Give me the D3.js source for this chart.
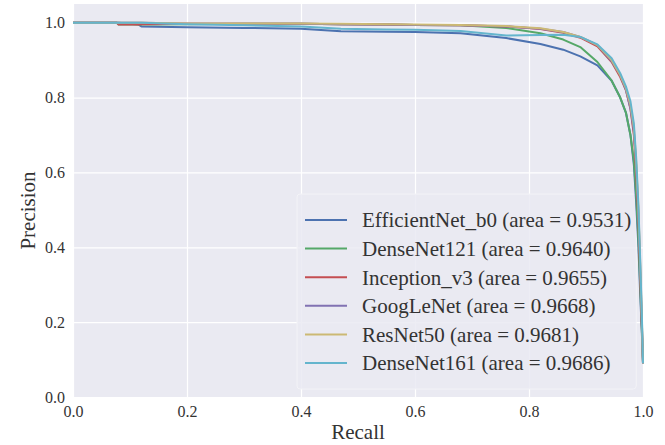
<!DOCTYPE html>
<html>
<head>
<meta charset="utf-8">
<script src="https://cdn.jsdelivr.net/npm/d3@7"></script>
<style>
  body { margin: 0; background: #fff; }
  svg { display: block; }
  .tick text { font-family: "Liberation Serif", "Times New Roman", serif; font-size: 16px; fill: #333; }
  .axis-title { font-family: "Liberation Serif", "Times New Roman", serif; font-size: 21px; fill: #333; }
  .legend-text { font-family: "Liberation Serif", "Times New Roman", serif; font-size: 21px; fill: #333; }
</style>
</head>
<body>
<div id="chart"></div>
<script>
'use strict';

// model names + average precision shown in the legend
var models = ['EfficientNet_b0', 'DenseNet121', 'Inception_v3', 'GoogLeNet', 'ResNet50', 'DenseNet161'];
var areas = ['0.9531', '0.9640', '0.9655', '0.9668', '0.9681', '0.9686'];
var colors = ['#4C72B0', '#55A868', '#C44E52', '#8172B2', '#CCB974', '#64B5CD'];

// shared recall grid
var recall = [0, 0.077, 0.08, 0.115, 0.12, 0.2, 0.3, 0.4, 0.47, 0.55, 0.6, 0.68, 0.76, 0.82, 0.86,
              0.89, 0.92, 0.945, 0.96, 0.97, 0.978, 0.984, 0.988, 0.992, 0.995, 0.998, 1.0];

// precision for each model at the recall points above
var precEfficientNet = [1, 1, 1, 0.995, 0.99, 0.988, 0.986, 0.984, 0.977, 0.976, 0.975, 0.972, 0.959, 0.943, 0.928,
                        0.910, 0.886, 0.845, 0.80, 0.76, 0.70, 0.62, 0.52, 0.40, 0.28, 0.17, 0.09];
var precDenseNet121 = [1, 1, 0.995, 0.995, 0.995, 0.996, 0.997, 0.997, 0.996, 0.995, 0.994, 0.993, 0.986, 0.972, 0.955,
                       0.935, 0.895, 0.845, 0.80, 0.76, 0.70, 0.63, 0.54, 0.42, 0.30, 0.18, 0.09];
var precInception = [1, 1, 0.995, 0.995, 0.996, 0.997, 0.997, 0.997, 0.996, 0.995, 0.994, 0.993, 0.99, 0.983, 0.973,
                     0.96, 0.937, 0.895, 0.855, 0.82, 0.77, 0.70, 0.60, 0.47, 0.33, 0.19, 0.09];
var precGoogLeNet = [1, 1, 1, 1, 1, 0.998, 0.997, 0.997, 0.996, 0.995, 0.994, 0.993, 0.99, 0.984, 0.975,
                     0.962, 0.940, 0.897, 0.86, 0.82, 0.77, 0.71, 0.62, 0.49, 0.35, 0.20, 0.09];
var precResNet50 = [1, 1, 1, 1, 1, 0.998, 0.998, 0.998, 0.997, 0.996, 0.995, 0.994, 0.991, 0.985, 0.975,
                    0.962, 0.94, 0.90, 0.86, 0.825, 0.78, 0.72, 0.63, 0.50, 0.36, 0.21, 0.09];
var precDenseNet161 = [1, 1, 1, 1, 1, 0.996, 0.993, 0.99, 0.984, 0.982, 0.981, 0.978, 0.966, 0.967, 0.968,
                       0.962, 0.942, 0.905, 0.865, 0.83, 0.79, 0.73, 0.64, 0.51, 0.37, 0.22, 0.09];

var precisions = [precEfficientNet, precDenseNet121, precInception, precGoogLeNet, precResNet50, precDenseNet161];

var xTicks = [0, 0.2, 0.4, 0.6, 0.8, 1.0];
var yTicks = [0, 0.2, 0.4, 0.6, 0.8, 1.0];

var svgWidth = 665;
var svgHeight = 445;
var margins = { top: 4, left: 73, bottom: 48, right: 22 };
var width = svgWidth - margins.left - margins.right;
var height = svgHeight - margins.top - margins.bottom;

var svg = d3.select('#chart')
    .append('svg')
    .attr('width', svgWidth)
    .attr('height', svgHeight);

var g = svg.append('g')
    .attr('transform', 'translate(' + margins.left + ',' + margins.top + ')');

var x = d3.scaleLinear().domain([0, 1]).range([0, width]);
var y = d3.scaleLinear().domain([0, 1.05]).range([height, 0]);

// seaborn darkgrid background
g.append('rect')
    .attr('width', width)
    .attr('height', height)
    .attr('fill', '#EAEAF2');

// grid lines
g.append('g')
    .attr('transform', 'translate(0,' + height + ')')
    .call(d3.axisBottom(x).tickValues(xTicks).tickSize(-height).tickFormat(''))
    .call(function (s) {
      s.select('.domain').remove();
      s.selectAll('line').attr('stroke', '#fff').attr('stroke-width', 1.2);
    });

g.append('g')
    .call(d3.axisLeft(y).tickValues(yTicks).tickSize(-width).tickFormat(''))
    .call(function (s) {
      s.select('.domain').remove();
      s.selectAll('line').attr('stroke', '#fff').attr('stroke-width', 1.2);
    });

// tick labels, no tick marks
g.append('g')
    .attr('transform', 'translate(0,' + height + ')')
    .call(d3.axisBottom(x).tickValues(xTicks).tickSize(0).tickPadding(9).tickFormat(d3.format('.1f')))
    .call(function (s) { s.select('.domain').remove(); });

g.append('g')
    .call(d3.axisLeft(y).tickValues(yTicks).tickSize(0).tickPadding(8).tickFormat(d3.format('.1f')))
    .call(function (s) { s.select('.domain').remove(); });

// legend (lower right) - drawn before the curves so the steep end stays visible
var legend = g.append('g').attr('transform', 'translate(' + (-margins.left) + ',' + (-margins.top) + ')');
var legendBox = legend.append('rect')
    .attr('fill', '#EAEAF2')
    .attr('fill-opacity', 0.85)
    .attr('stroke', '#f3f3f7')
    .attr('rx', 3);

var rowY0 = 220;
var rowStep = 28.6;
var maxLen = 0;
for (var k = 0; k < models.length; k++) {
  var ry = rowY0 + k * rowStep;
  legend.append('line')
      .attr('x1', 305).attr('x2', 347)
      .attr('y1', ry).attr('y2', ry)
      .attr('stroke', colors[k])
      .attr('stroke-width', 2);
  var t = legend.append('text')
      .attr('class', 'legend-text')
      .attr('x', 362)
      .attr('y', ry)
      .attr('dy', '0.35em')
      .text(models[k] + ' (area = ' + areas[k] + ')');
  maxLen = Math.max(maxLen, t.node().getComputedTextLength());
}

legendBox
    .attr('x', 297)
    .attr('y', rowY0 - 26)
    .attr('width', 362 + maxLen + 5 - 297)
    .attr('height', rowStep * 5 + 52);

// PR curves
var line = d3.line()
    .x(function (d) { return x(d[0]); })
    .y(function (d) { return y(d[1]); });

for (var m = 0; m < models.length; m++) {
  var pts = recall.map(function (r, i) { return [r, precisions[m][i]]; });
  g.append('path')
      .datum(pts)
      .attr('d', line)
      .attr('fill', 'none')
      .attr('stroke', colors[m])
      .attr('stroke-width', 2)
      .attr('stroke-linejoin', 'round');
}

// axis titles
svg.append('text')
    .attr('class', 'axis-title')
    .attr('x', margins.left + width / 2)
    .attr('y', 439)
    .attr('text-anchor', 'middle')
    .text('Recall');

svg.append('text')
    .attr('class', 'axis-title')
    .attr('transform', 'translate(35,' + (margins.top + height / 2 + 10) + ') rotate(-90)')
    .attr('text-anchor', 'middle')
    .text('Precision');
</script>
</body>
</html>
